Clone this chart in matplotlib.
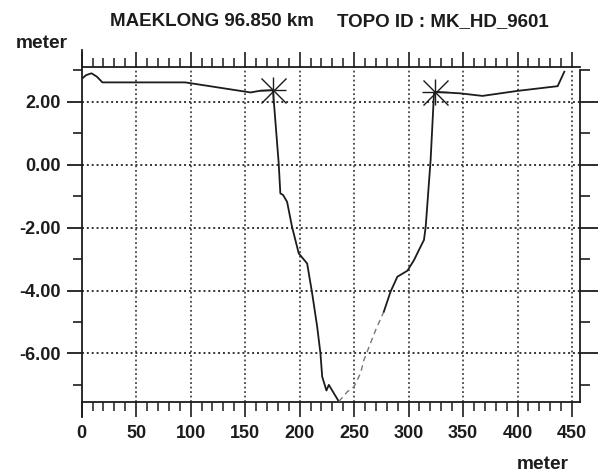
import matplotlib
matplotlib.use("Agg")
import matplotlib.pyplot as plt
from matplotlib.ticker import FixedLocator, NullFormatter

plt.rcParams['font.family'] = ['Liberation Sans', 'DejaVu Sans']

# Cross-section profile: station (m) and elevation (m)
station = [0, 4, 9, 14, 19, 95, 155, 163, 175.5,
           180.8, 182.3, 184.8, 188.5, 193, 199.2, 206.9, 211.5, 216.1,
           219.1, 220.7, 224.6, 226.8, 229.9, 236]
elevation = [2.73, 2.85, 2.91, 2.80, 2.62, 2.62, 2.30, 2.35, 2.375,
             0.04, -0.91, -0.96, -1.18, -1.97, -2.82, -3.14, -4.09, -5.15,
             -6.00, -6.74, -7.18, -7.00, -7.18, -7.53]
# faint section climbing out of the thalweg
station_faint = [236, 243.7, 249.8, 255.9, 259, 269.7, 277.3]
elevation_faint = [-7.53, -7.22, -7.06, -6.63, -6.21, -5.26, -4.67]
# right bank
station_right = [277.3, 283.4, 289.7, 298.9, 305, 309.5, 314.1, 315.7,
                 320.2, 323.3, 324.2, 347.8, 367.8, 400, 436.8, 442.9]
elevation_right = [-4.67, -4.04, -3.56, -3.37, -3.03, -2.71, -2.39, -1.97,
                   0.15, 2.27, 2.32, 2.27, 2.19, 2.35, 2.50, 2.96]

# bank markers
bank_x = [175.5, 324.2]
bank_y = [2.375, 2.32]

x_major = [0, 50, 100, 150, 200, 250, 300, 350, 400, 450]
x_labels = ['0', '50', '100', '150', '200', '250', '300', '350', '400', '450']
y_major = [2, 0, -2, -4, -6]
y_labels = ['2.00', '0.00', '-2.00', '-4.00', '-6.00']
y_minor = [3, 1, -1, -3, -5, -7]

title_left = 'MAEKLONG 96.850 km'
title_right = 'TOPO ID : MK_HD_9601'

W, H = 609, 475
fig = plt.figure(figsize=(W / 100, H / 100), dpi=100)
ax = fig.add_axes([81.7 / W, (H - 402) / H, 498.3 / W, 334.7 / H])
ax.set_xlim(0, 457.3)
ax.set_ylim(-7.545, 3.10)

ink = '#1c1c1c'
tfont = dict(fontsize=13, fontweight='bold', color=ink)

# dotted grid
for gx in x_major[1:]:
    ax.plot([gx, gx], [-7.545, 3.10], ls=(0, (1, 1.5)), lw=1.3, color='#444444', zorder=1)
for gy in y_major:
    ax.plot([0, 457.3], [gy, gy], ls=(0, (1, 1.5)), lw=1.4, color='#333333', zorder=1)

# profile line
ax.plot(station, elevation, color=ink, lw=1.3, zorder=3)
ax.plot(station_faint, elevation_faint, color='#777777', lw=1.0, ls=(0, (4, 3)), zorder=3)
ax.plot(station_right, elevation_right, color=ink, lw=1.3, zorder=3)

# bank markers (eight-ray asterisk)
ax.plot(bank_x, bank_y, ls='none', marker='+', ms=19, mew=1.0, color=ink, zorder=4)
ax.plot(bank_x, bank_y, ls='none', marker='x', ms=18, mew=1.0, color=ink, zorder=4)

# spines
for s in ['left', 'bottom', 'top']:
    ax.spines[s].set_linewidth(1.3)
    ax.spines[s].set_color(ink)
ax.spines['right'].set_visible(False)
ax.spines['left'].set_bounds(-8.02, 3.64)

ax.xaxis.set_major_locator(FixedLocator(x_major))
ax.xaxis.set_minor_locator(FixedLocator([v for v in range(10, 451, 10) if v % 50]))
ax.set_xticklabels(x_labels, **tfont)
ax.yaxis.set_major_locator(FixedLocator(y_major))
ax.yaxis.set_minor_locator(FixedLocator(y_minor))
ax.set_yticklabels(y_labels, **tfont)
ax.yaxis.set_minor_formatter(NullFormatter())

ax.tick_params(axis='x', which='major', direction='out', length=10.5, width=1.2,
               top=True, bottom=True, pad=6, color=ink)
ax.tick_params(axis='x', which='minor', direction='out', length=6.5, width=1.1,
               top=True, bottom=True, color=ink)
ax.tick_params(axis='y', which='major', direction='out', length=11, width=1.3,
               left=True, right=False, pad=4, color=ink)
ax.tick_params(axis='y', which='minor', direction='out', length=6.5, width=1.2,
               left=True, right=False, color=ink)

# right-hand bracket axis
ax2 = ax.twinx()
ax2.set_ylim(ax.get_ylim())
for s in ['left', 'bottom', 'top']:
    ax2.spines[s].set_visible(False)
ax2.spines['right'].set_linewidth(1.3)
ax2.spines['right'].set_color(ink)
ax2.spines['right'].set_bounds(-7.545, 3.0)
ax2.yaxis.set_major_locator(FixedLocator(y_major))
ax2.yaxis.set_minor_locator(FixedLocator(y_minor))
ax2.yaxis.set_major_formatter(NullFormatter())
ax2.yaxis.set_minor_formatter(NullFormatter())
ax2.tick_params(axis='y', which='major', direction='out', length=13, width=1.3, color=ink)
ax2.tick_params(axis='y', which='minor', direction='out', length=7, width=1.2, color=ink)

# titles and axis captions
fig.text(110 / W, 1 - 25.7 / H, title_left, ha='left', va='baseline', fontsize=13.5,
         fontweight='bold', color=ink)
fig.text(336.7 / W, 1 - 25.7 / H, title_right, ha='left', va='baseline', fontsize=13.5,
         fontweight='bold', color=ink)
fig.text(16 / W, 1 - 48 / H, 'meter', ha='left', va='baseline', fontsize=13.8,
         fontweight='bold', color=ink)
fig.text(542.5 / W, 1 - 469 / H, 'meter', ha='center', va='baseline', fontsize=13.8,
         fontweight='bold', color=ink)

fig.savefig('out.png', dpi=100, facecolor='white')
